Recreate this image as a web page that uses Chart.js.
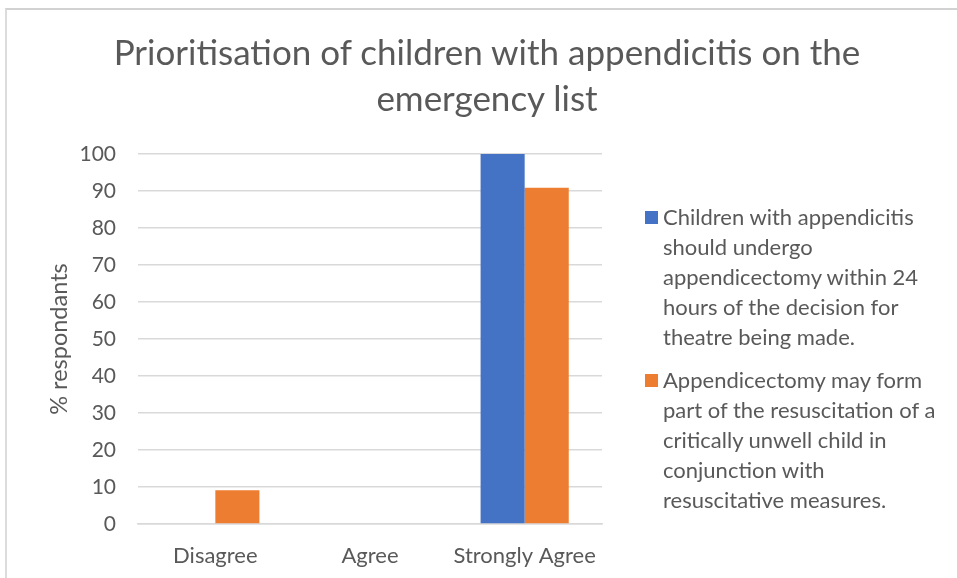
<!DOCTYPE html>
<html lang="en">
  <head>
    <meta charset="UTF-8" />
    <title>Prioritisation of children with appendicitis</title>
    <style>
      html,
      body {
        margin: 0;
        padding: 0;
        background: #fff;
        overflow: hidden;
      }
      .frame {
        position: absolute;
        left: 0;
        top: 0;
        width: 957px;
        height: 578px;
      }
      .border {
        position: absolute;
        left: 5px;
        top: 8px;
        width: 960px;
        height: 580px;
        border-top: 2px solid #d2d2d2;
        border-left: 2px solid #dcdcdc;
      }
      #title {
        position: absolute;
        left: 0;
        top: 28px;
        width: 974px;
        text-align: center;
        font-family: Lato, sans-serif;
        font-size: 35px;
        line-height: 46px;
        color: #595959;
      }
      #legend {
        position: absolute;
        left: 645px;
        top: 202px;
        font-family: Lato, sans-serif;
        font-size: 22px;
        color: #595959;
        line-height: 30px;
      }
      .item {
        position: relative;
        padding-left: 18px;
        margin-bottom: 13px;
      }
      .box {
        position: absolute;
        left: 0;
        top: 9px;
        width: 13px;
        height: 13px;
      }
    </style>
  </head>
  <body>
    <div class="border"></div>
    <div class="frame">
      <canvas id="chart"></canvas>
    </div>
    <div id="title"></div>
    <div id="legend"></div>

    <script src="https://cdn.jsdelivr.net/npm/chart.js@4"></script>
    <script>
      // data
      const categories = ["Disagree", "Agree", "Strongly Agree"];
      const within24h = [0, 0, 100];
      const partOfResus = [9.1, 0, 90.9];
      const yTicks = [0, 10, 20, 30, 40, 50, 60, 70, 80, 90, 100];

      const titleLines = [
        "Prioritisation of children with appendicitis on the",
        "emergency list",
      ];

      // legend text, one entry per line as wrapped in the original
      const label1 = [
        "Children with appendicitis",
        "should undergo",
        "appendicectomy within 24",
        "hours of the decision for",
        "theatre being made.",
      ];
      const label2 = [
        "Appendicectomy may form",
        "part of the resuscitation of a",
        "critically unwell child in",
        "conjunction with",
        "resuscitative measures.",
      ];

      const blue = "#4472c4";
      const orange = "#ed7d31";
      const grey = "#595959";

      // title sits centred on the whole picture, not just the plot
      const titleEl = document.getElementById("title");
      titleLines.forEach((line) => {
        const row = document.createElement("div");
        row.textContent = line;
        titleEl.appendChild(row);
      });

      const ctx = document.getElementById("chart");

      const chart = new Chart(ctx, {
        type: "bar",
        data: {
          labels: categories,
          datasets: [
            {
              label: label1.join(" "),
              data: within24h,
              backgroundColor: blue,
              lines: label1,
            },
            {
              label: label2.join(" "),
              data: partOfResus,
              backgroundColor: orange,
              lines: label2,
            },
          ],
        },
        options: {
          responsive: true,
          maintainAspectRatio: false,
          animation: false,
          layout: {
            padding: { left: 0, right: 355, top: 154, bottom: 0 },
          },
          datasets: {
            bar: {
              categoryPercentage: 0.57,
              barPercentage: 1,
            },
          },
          plugins: {
            legend: { display: false },
            tooltip: { enabled: false },
            title: { display: false },
          },
          scales: {
            x: {
              // fixed height so the plot bottom lands where the original's does
              afterFit: (scale) => {
                scale.height = 54;
              },
              grid: { display: false },
              border: { color: "#d9d9d9", width: 1.5 },
              ticks: {
                color: grey,
                padding: 11,
                maxRotation: 0,
                autoSkip: false,
                font: { family: "Lato", size: 22 },
              },
            },
            y: {
              min: 0,
              max: 100,
              afterBuildTicks: (scale) => {
                scale.ticks = yTicks.map((v) => ({ value: v }));
              },
              afterFit: (scale) => {
                scale.width = 138;
              },
              border: { display: false },
              grid: { color: "#d9d9d9", lineWidth: 1.5, drawTicks: false },
              ticks: {
                color: grey,
                padding: 22,
                font: { family: "Lato", size: 21 },
              },
              title: {
                display: true,
                text: "% respondants",
                color: grey,
                font: { family: "Lato", size: 23.5 },
                padding: { top: 45, bottom: 0 },
              },
            },
          },
        },
      });

      // html legend built from the datasets
      const legend = document.getElementById("legend");
      chart.data.datasets.forEach((ds) => {
        const item = document.createElement("div");
        item.className = "item";
        const box = document.createElement("span");
        box.className = "box";
        box.style.background = ds.backgroundColor;
        item.appendChild(box);
        ds.lines.forEach((line) => {
          const row = document.createElement("div");
          row.textContent = line;
          item.appendChild(row);
        });
        legend.appendChild(item);
      });
    </script>
  </body>
</html>
